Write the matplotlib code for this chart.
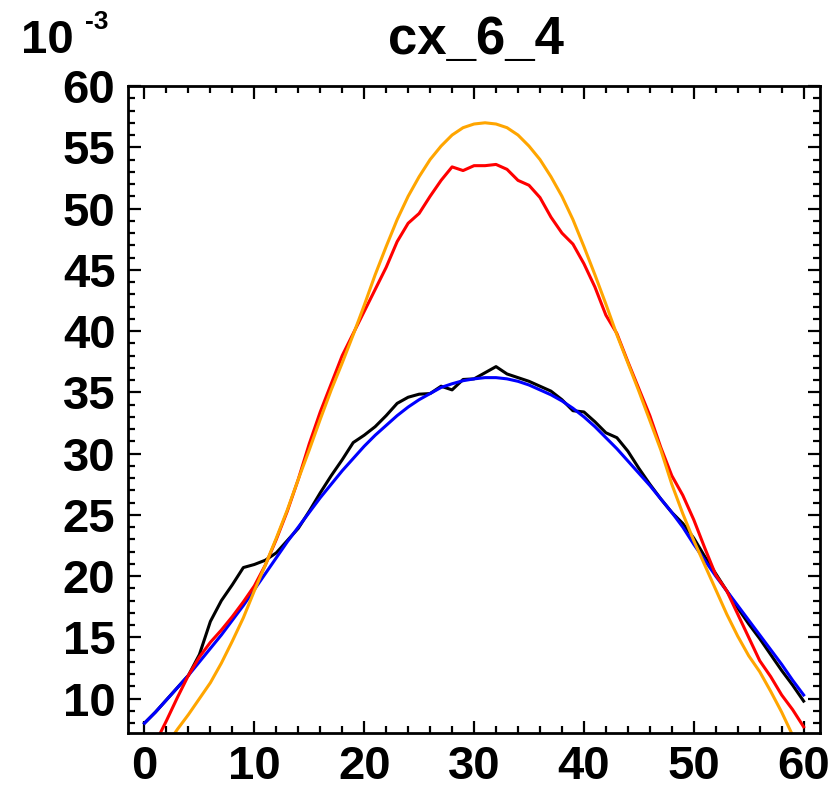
import matplotlib
matplotlib.use('Agg')
import matplotlib.pyplot as plt
from matplotlib.ticker import MultipleLocator

plt.rcParams['font.family'] = ['Liberation Sans', 'DejaVu Sans']
plt.rcParams['font.weight'] = 'bold'

# profile position (pixels) and values in units of 1e-3
x = list(range(61))

measured_a = [8.0, 8.9, 9.9, 10.9, 11.9, 13.6, 16.3, 18.0, 19.3, 20.7,
              20.95, 21.3, 21.9, 22.9, 23.9, 25.3, 26.8, 28.2, 29.5, 30.9,
              31.5, 32.2, 33.1, 34.1, 34.6, 34.85, 34.9, 35.5, 35.2, 36.05,
              36.1, 36.6, 37.1, 36.5, 36.2, 35.9, 35.5, 35.1, 34.4, 33.5,
              33.4, 32.6, 31.7, 31.3, 30.2, 28.8, 27.5, 26.3, 25.2, 24.3,
              23.1, 21.6, 20.2, 18.8, 17.4, 16.1, 14.9, 13.6, 12.3, 11.1, 9.8]

fit_a = [8.0, 8.9, 9.9, 10.9, 11.9, 13.0, 14.1, 15.2, 16.4, 17.6,
         18.9, 20.2, 21.5, 22.8, 24.0, 25.2, 26.4, 27.5, 28.6, 29.6,
         30.6, 31.5, 32.3, 33.1, 33.8, 34.4, 34.9, 35.4, 35.7, 35.95,
         36.1, 36.2, 36.2, 36.1, 35.9, 35.6, 35.2, 34.8, 34.3, 33.7,
         33.0, 32.2, 31.3, 30.4, 29.4, 28.4, 27.4, 26.3, 25.2, 24.0,
         22.6, 21.3, 20.0, 18.8, 17.6, 16.4, 15.2, 14.0, 12.8, 11.5, 10.3]

measured_b = [4.5, 6.4, 8.2, 10.1, 11.9, 13.4, 14.6, 15.6, 16.7, 17.9,
              19.2, 20.9, 23.0, 25.3, 27.9, 30.8, 33.4, 35.7, 38.0, 39.8,
              41.6, 43.4, 45.2, 47.3, 48.8, 49.6, 51.0, 52.3, 53.4, 53.1,
              53.5, 53.5, 53.6, 53.2, 52.3, 51.9, 50.9, 49.3, 48.0, 47.1,
              45.5, 43.6, 41.3, 39.8, 37.5, 35.3, 33.1, 30.5, 28.2, 26.6,
              24.6, 22.3, 20.1, 18.8, 16.9, 15.0, 13.1, 11.8, 10.3, 9.1, 7.7]

fit_b = [3.9, 5.1, 6.2, 7.5, 8.7, 10.0, 11.3, 12.9, 14.7, 16.6,
         18.8, 20.9, 23.1, 25.4, 27.9, 30.3, 32.8, 35.2, 37.4, 39.7,
         42.1, 44.6, 46.9, 49.1, 51.0, 52.6, 54.0, 55.1, 56.0, 56.6,
         56.9, 57.0, 56.9, 56.6, 56.0, 55.1, 54.0, 52.6, 51.0, 49.1,
         46.9, 44.6, 42.2, 39.7, 37.4, 35.1, 32.7, 30.3, 27.5, 25.1,
         22.9, 20.9, 18.9, 16.9, 15.1, 13.5, 12.2, 10.6, 8.9, 7.0, 5.2]

fig = plt.figure(figsize=(8.36, 7.98), dpi=100)
ax = fig.add_axes([0.1531, 0.0815, 0.8279, 0.8107])

lw = 2.2
ax.plot(x, measured_a, color='black', lw=lw)
ax.plot(x, fit_a, color='#0000ff', lw=lw)
ax.plot(x, measured_b, color='#ff0000', lw=lw)
ax.plot(x, fit_b, color='#ffa500', lw=lw)

ax.set_xlim(-1.5, 61.5)
ax.set_ylim(7.2, 60)
ax.set_xticks([0, 10, 20, 30, 40, 50, 60])
ax.set_yticks([10, 15, 20, 25, 30, 35, 40, 45, 50, 55, 60])
ax.xaxis.set_minor_locator(MultipleLocator(2))
ax.yaxis.set_minor_locator(MultipleLocator(1))

ax.tick_params(which='both', direction='in', top=True, right=True, width=1.6)
ax.tick_params(which='major', length=9, labelsize=34)
ax.tick_params(which='minor', length=5)
ax.tick_params(axis='x', pad=9)
ax.tick_params(axis='y', pad=9)
for lab in ax.get_xticklabels() + ax.get_yticklabels():
    lab.set_fontweight('bold')
for sp in ax.spines.values():
    sp.set_linewidth(2.0)

fig.text(0.569, 0.950, 'cx_6_4', ha='center', va='center', fontsize=38, fontweight='bold')
fig.text(0.057, 0.948, '10', ha='center', va='center', fontsize=34, fontweight='bold')
fig.text(0.116, 0.973, '-3', ha='center', va='center', fontsize=19, fontweight='bold')

fig.savefig('out.png', dpi=100)
